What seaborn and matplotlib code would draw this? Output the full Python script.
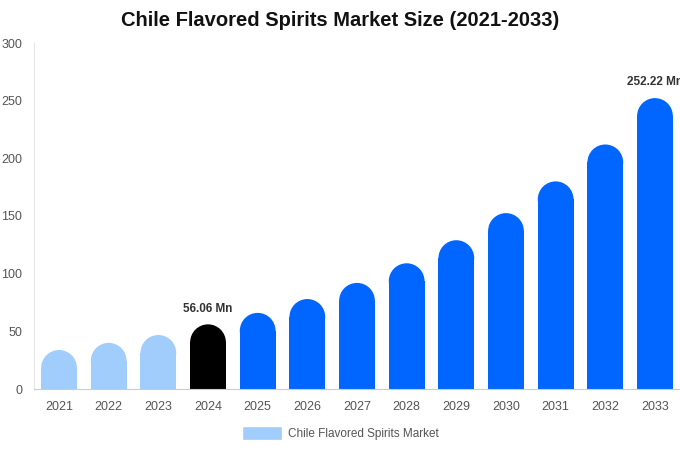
import matplotlib
matplotlib.use("Agg")
import matplotlib.pyplot as plt
import seaborn as sns
import pandas as pd
from matplotlib.patches import Ellipse, Patch

years = ["2021", "2022", "2023", "2024", "2025", "2026", "2027", "2028", "2029", "2030", "2031", "2032", "2033"]
values = [33.8, 40.0, 46.8, 56.06, 66.0, 78.0, 92.0, 109.0, 129.0, 152.5, 180.0, 212.0, 252.22]
bar_colors = ["#a0cdfb"] * 3 + ["#000000"] + ["#0066ff"] * 9
labeled = {"2024": "56.06 Mn", "2033": "252.22 Mn"}
title = "Chile Flavored Spirits Market Size (2021-2033)"
legend_label = "Chile Flavored Spirits Market"
yticks = [0, 50, 100, 150, 200, 250, 300]

sns.set_theme(style="white")
plt.rcParams['font.family'] = ['Liberation Sans', 'DejaVu Sans']

df = pd.DataFrame({"year": years, "value": values})

fig = plt.figure(figsize=(6.8, 4.5), dpi=100)
ax = fig.add_axes([34.2 / 680, 61 / 450, 645.6 / 680, 346 / 450])
sns.barplot(data=df, x="year", y="value", hue="year", palette=bar_colors,
            legend=False, width=0.72, ax=ax, saturation=1)
ax.set_ylim(0, 300)
ax.set_xlim(-0.5, 12.5)
ax.set_yticks(yticks)
ax.set_xlabel("")
ax.set_ylabel("")

# rounded tops
fig.canvas.draw()
bbox = ax.get_window_extent()
px_per_x = bbox.width / 13.0
px_per_y = bbox.height / 300.0
for p, c in zip(list(ax.patches), bar_colors):
    x, w, h = p.get_x(), p.get_width(), p.get_height()
    r_y = (w * px_per_x / 2) / px_per_y
    p.set_height(h - r_y)
    p.set_edgecolor("none")
    ax.add_patch(Ellipse((x + w / 2, h - r_y), w, 2 * r_y, facecolor=c, edgecolor="none"))

for i, (yr, v) in enumerate(zip(years, values)):
    if yr in labeled:
        ax.annotate(labeled[yr], (i, v), xytext=(0, 7), textcoords="offset points",
                    ha="center", va="bottom", fontsize=8.5, fontweight="bold", color="#333333",
                    annotation_clip=False)

for s in ["top", "right"]:
    ax.spines[s].set_visible(False)
ax.spines["left"].set_color("#e6e6e6")
ax.spines["bottom"].set_color("#cccccc")
ax.spines["left"].set_linewidth(0.8)
ax.spines["bottom"].set_linewidth(0.8)
ax.tick_params(axis="both", length=0, labelsize=9, colors="#555555")
ax.tick_params(axis="y", pad=8.5)
ax.tick_params(axis="x", pad=9)

fig.suptitle(title, x=0.5, y=1 - 21 / 450, va="center", fontsize=14.5, fontweight="bold", color="#111111")

fig.legend(handles=[Patch(facecolor="#a0cdfb", label=legend_label)], loc="center",
           bbox_to_anchor=(0.5, 1 - 433 / 450), frameon=False, fontsize=8.5,
           handlelength=3.4, handleheight=1.4, labelcolor="#555555", handletextpad=0.5)

fig.savefig("out.png", dpi=100)
